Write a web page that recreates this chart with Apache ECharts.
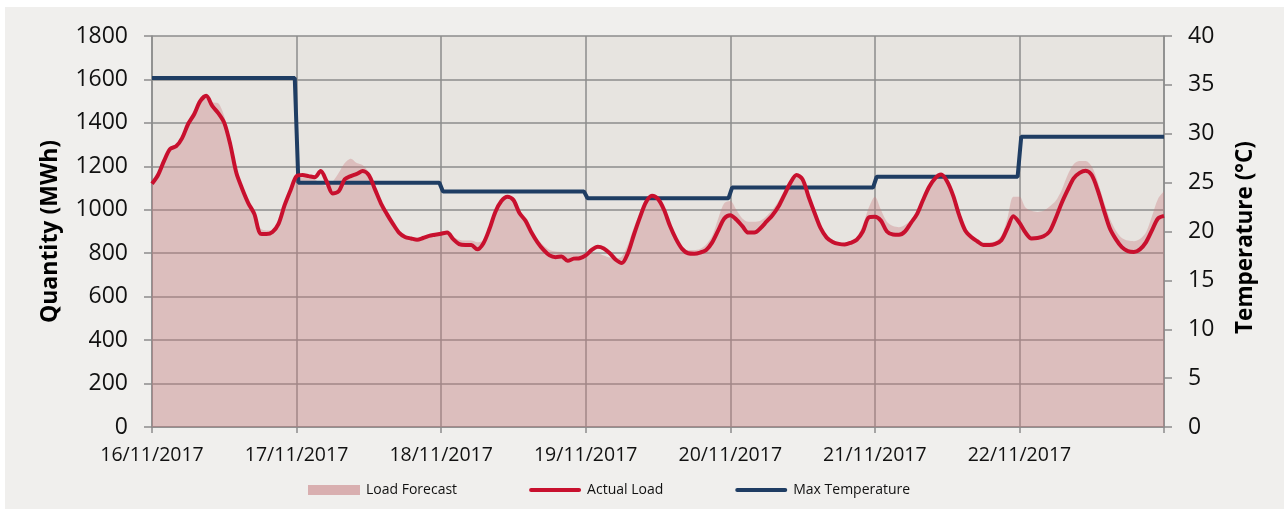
<!DOCTYPE html>
<html>
<head>
<meta charset="utf-8">
<script src="https://cdn.jsdelivr.net/npm/echarts/dist/echarts.min.js"></script>
<style>
  html, body { margin: 0; padding: 0; background: #ffffff; }
  #chart { position: absolute; left: 5px; top: 7px; width: 1279px; height: 502px; }
</style>
</head>
<body>
<div id="chart"></div>
<script>
// day labels on the x axis (one per 24 hours)
const dayLabels = ['16/11/2017', '17/11/2017', '18/11/2017', '19/11/2017', '20/11/2017', '21/11/2017', '22/11/2017'];

// hourly values, hour 0 .. 168
const loadForecast = [
  1120, 1170, 1225, 1275, 1300, 1330, 1395, 1440, 1495, 1520, 1495, 1490, 1430, 1310, 1170, 1095, 1030, 985, 915, 905, 905, 935, 1015, 1090,
  1140, 1150, 1150, 1140, 1120, 1110, 1130, 1170, 1215, 1235, 1215, 1205, 1170, 1100, 1030, 985, 945, 900, 880, 860, 855, 865, 875, 885,
  900, 895, 875, 862, 858, 858, 850, 860, 910, 990, 1045, 1065, 1045, 990, 950, 905, 865, 835, 815, 808, 805, 800, 800, 800,
  800, 805, 800, 790, 780, 775, 785, 840, 920, 985, 1040, 1065, 1045, 1000, 930, 870, 830, 815, 815, 820, 840, 880, 960, 1030,
  1040, 1000, 960, 945, 945, 950, 970, 1000, 1040, 1090, 1140, 1160, 1135, 1065, 990, 925, 885, 862, 850, 848, 858, 875, 930, 1010,
  1060, 1000, 945, 925, 920, 930, 955, 1000, 1060, 1115, 1150, 1165, 1140, 1070, 985, 915, 878, 860, 852, 850, 855, 880, 960, 1060,
  1060, 1010, 995, 990, 995, 1015, 1040, 1090, 1160, 1210, 1225, 1225, 1200, 1130, 1040, 960, 905, 870, 858, 855, 865, 895, 970, 1050, 1085
];
const actualLoad = [
  1120, 1160, 1225, 1280, 1292, 1330, 1395, 1440, 1500, 1525, 1478, 1445, 1400, 1300, 1170, 1095, 1030, 980, 890, 888, 898, 935, 1020, 1090,
  1155, 1160, 1155, 1150, 1178, 1130, 1075, 1085, 1140, 1155, 1165, 1178, 1160, 1095, 1030, 980, 935, 895, 875, 868, 862, 870, 880, 885,
  890, 895, 865, 842, 838, 838, 818, 845, 910, 990, 1040, 1060, 1045, 985, 950, 895, 850, 815, 790, 782, 785, 765, 775, 777,
  790, 815, 830, 822, 800, 770, 755, 800, 885, 965, 1035, 1065, 1050, 1000, 925, 865, 820, 800, 798, 803, 815, 850, 905, 960,
  975, 955, 925, 895, 895, 915, 945, 975, 1015, 1070, 1125, 1160, 1140, 1060, 985, 915, 872, 852, 843, 840, 848, 862, 900, 965,
  968, 950, 900, 886, 885, 900, 940, 980, 1045, 1105, 1145, 1162, 1130, 1065, 975, 905, 875, 855, 838, 838, 843, 860, 915, 970,
  940, 895, 868, 870, 878, 900, 960, 1030, 1090, 1145, 1170, 1180, 1160, 1090, 1000, 915, 865, 828, 810, 806, 818, 850, 905, 960, 972
];

// daily maximum temperature (°C)
const maxTemp = [35.7, 25.0, 24.1, 23.4, 24.5, 25.6, 29.7];

const forecastData = loadForecast.map((v, i) => [i, v]);
const actualData = actualLoad.map((v, i) => [i, v]);
const tempData = [];
maxTemp.forEach((t, d) => {
  tempData.push([d === 0 ? 0 : d * 24 + 0.3, t]);
  tempData.push([d === maxTemp.length - 1 ? 168 : d * 24 + 23.7, t]);
});

const font = 'Open Sans';
const gridColor = '#8c8c8c';
const redColor = '#c8102e';
const blueColor = '#1f3d63';
// thin rounded bar used as legend swatch for the two lines
const barIcon = 'path://M2,0H50A2,2,0,0,1,50,4H2A2,2,0,0,1,2,0Z';

var chart = echarts.init(document.getElementById('chart'));
var option = {
  backgroundColor: '#f0efed',
  animation: false,
  textStyle: { fontFamily: font },
  grid: {
    left: 147, right: 120, top: 29, bottom: 82,
    show: true, backgroundColor: '#e7e4e0', borderWidth: 0
  },
  legend: {
    left: 303, top: 476, padding: 0,
    itemWidth: 52, itemHeight: 10, itemGap: 72,
    symbolKeepAspect: true,
    textStyle: { fontFamily: font, fontSize: 14, color: '#111', padding: [0, 0, 0, 1] },
    data: [
      { name: 'Load Forecast', icon: 'rect', itemStyle: { color: '#d9afb0' } },
      { name: 'Actual Load', icon: barIcon, itemStyle: { color: redColor } },
      { name: 'Max Temperature', icon: barIcon, itemStyle: { color: blueColor } }
    ]
  },
  xAxis: {
    type: 'value', min: 0, max: 168, interval: 24,
    axisLine: { lineStyle: { color: gridColor, width: 1.5 } },
    axisTick: { show: true, length: 6, lineStyle: { color: gridColor, width: 1.5 } },
    splitLine: { show: true, lineStyle: { color: gridColor, width: 1.5 } },
    axisLabel: {
      fontFamily: font, fontSize: 19.5, color: '#111', margin: 18,
      formatter: v => dayLabels[v / 24] || ''
    }
  },
  yAxis: [
    {
      type: 'value', min: 0, max: 1800, interval: 200,
      name: 'Quantity (MWh)', nameLocation: 'middle', nameRotate: 90, nameGap: 90,
      nameTextStyle: { fontFamily: font, fontSize: 23, fontWeight: 'bold', color: '#000' },
      axisLine: { show: true, lineStyle: { color: gridColor, width: 1.5 } },
      axisTick: { show: true, length: 8, lineStyle: { color: gridColor, width: 1.5 } },
      splitLine: { show: true, lineStyle: { color: gridColor, width: 1.5 } },
      axisLabel: { fontFamily: font, fontSize: 23, color: '#111', margin: 24, formatter: v => String(v) }
    },
    {
      type: 'value', min: 0, max: 40, interval: 5, position: 'right',
      name: 'Temperature (°C)', nameLocation: 'middle', nameRotate: 90, nameGap: 70,
      nameTextStyle: { fontFamily: font, fontSize: 22.5, fontWeight: 'bold', color: '#000', padding: [0, 12, 0, 0] },
      axisLine: { show: true, lineStyle: { color: gridColor, width: 1.5 } },
      axisTick: { show: true, length: 8, lineStyle: { color: gridColor, width: 1.5 } },
      splitLine: { show: false },
      axisLabel: { fontFamily: font, fontSize: 23, color: '#111', margin: 24 }
    }
  ],
  series: [
    {
      name: 'Load Forecast', type: 'line', yAxisIndex: 0, data: forecastData,
      smooth: 0.3, showSymbol: false, symbol: 'none', z: 1,
      lineStyle: { width: 0 },
      itemStyle: { color: '#d9afb0' },
      areaStyle: { color: 'rgba(202,121,125,0.5)' }
    },
    {
      name: 'Actual Load', type: 'line', yAxisIndex: 0, data: actualData,
      smooth: 0.3, showSymbol: false, symbol: 'none', z: 4,
      lineStyle: { width: 4, color: redColor },
      itemStyle: { color: redColor }
    },
    {
      name: 'Max Temperature', type: 'line', yAxisIndex: 1, data: tempData,
      showSymbol: false, symbol: 'none', z: 3,
      lineStyle: { width: 4, color: blueColor },
      itemStyle: { color: blueColor }
    }
  ]
};
chart.setOption(option);
</script>
</body>
</html>
